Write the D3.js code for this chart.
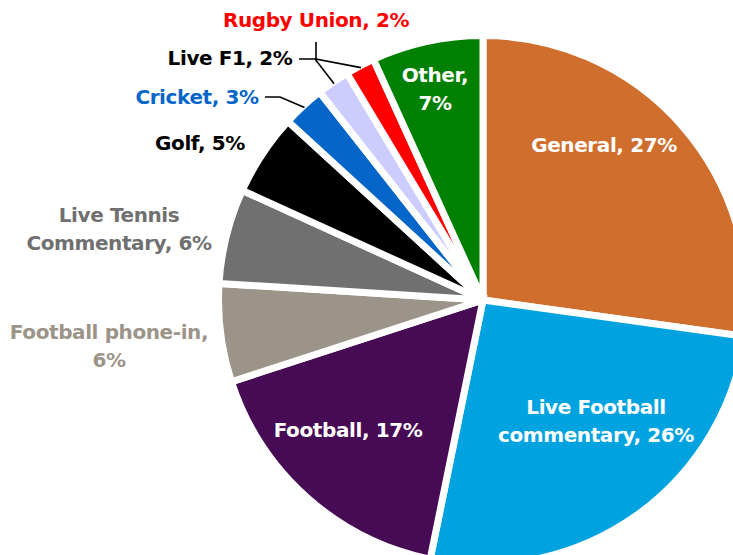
<!DOCTYPE html>
<html>
<head>
<meta charset="utf-8">
<script src="https://cdn.jsdelivr.net/npm/d3@7"></script>
<style>
  html, body { margin: 0; padding: 0; background: #fff; overflow: hidden; }
  svg { display: block; }
  text { font-family: "DejaVu Sans", Verdana, sans-serif; font-weight: bold; }
</style>
</head>
<body>
<svg id="chart" width="733" height="555"></svg>
<script>
// ---- data ----
const categories = ["General", "Live Football commentary", "Football", "Football phone-in",
  "Live Tennis Commentary", "Golf", "Cricket", "Live F1", "Rugby Union", "Other"];
const values = [27.2, 26.0, 16.8, 6.0, 5.8, 5.0, 2.6, 2.0, 1.8, 6.8];
const pctLabels = ["27%", "26%", "17%", "6%", "6%", "5%", "3%", "2%", "2%", "7%"];
const labelLines = [
  ["General, 27%"],
  ["Live Football", "commentary, 26%"],
  ["Football, 17%"],
  ["Football phone-in,", "6%"],
  ["Live Tennis", "Commentary, 6%"],
  ["Golf, 5%"],
  ["Cricket, 3%"],
  ["Live F1, 2%"],
  ["Rugby Union, 2%"],
  ["Other,", "7%"]
];

// ---- styling / layout ----
const sliceColors = ["#D06E2D", "#00A3DF", "#470B55", "#9C9488", "#707070",
  "#000000", "#0566C9", "#CCCCFF", "#FF0000", "#008000"];
const textColors = ["#FFFFFF", "#FFFFFF", "#FFFFFF", "#9C9488", "#707070",
  "#000000", "#0566C9", "#000000", "#FF0000", "#FFFFFF"];
// label centres relative to pie centre (px)
const labelOffsets = [[121, -155], [113, 121], [-135, 130], [-374, 46], [-364, -71],
  [-283, -157], [-286, -203], [-253, -242], [-167, -280], [-48, -211]];
// leader line start/elbow points relative to centre (null = no leader)
const leaders = [null, null, null, null, null, null,
  [[-218, -203], [-203, -203]],
  [[-184, -241], [-168, -241]],
  [[-167, -258], [-167, -241]],
  null];

const cx = 483, cy = 300, R = 264.5, fontSize = 20, lineH = 28;

const svg = d3.select("#chart");
const g = svg.append("g").attr("transform", `translate(${cx},${cy})`);

const pie = d3.pie().sort(null).value(d => d).startAngle(0).endAngle(2 * Math.PI);
const arcs = pie(values);
const arc = d3.arc().innerRadius(0).outerRadius(R);

g.selectAll("path.slice")
  .data(arcs)
  .join("path")
  .attr("class", "slice")
  .attr("d", arc)
  .attr("fill", (d, i) => sliceColors[i])
  .attr("stroke", "#fff")
  .attr("stroke-width", 7)
  .attr("stroke-linejoin", "miter");

// leader lines
arcs.forEach((d, i) => {
  if (!leaders[i]) return;
  const mid = (d.startAngle + d.endAngle) / 2;
  const rEnd = R - 2;
  const end = [Math.sin(mid) * rEnd, -Math.cos(mid) * rEnd];
  const pts = [...leaders[i], end];
  g.append("path")
    .attr("d", d3.line()(pts))
    .attr("fill", "none")
    .attr("stroke", "#000")
    .attr("stroke-width", 1.6);
});

// labels
categories.forEach((c, i) => {
  const lines = labelLines[i];
  const [ox, oy] = labelOffsets[i];
  const t = g.append("text")
    .attr("text-anchor", "middle")
    .attr("font-size", fontSize)
    .attr("letter-spacing", "-0.4px")
    .attr("fill", textColors[i]);
  const y0 = oy - (lines.length - 1) * lineH / 2;
  lines.forEach((ln, k) => {
    t.append("tspan")
      .attr("x", ox)
      .attr("y", y0 + k * lineH)
      .attr("dy", "0.36em")
      .text(ln);
  });
});
</script>
</body>
</html>
